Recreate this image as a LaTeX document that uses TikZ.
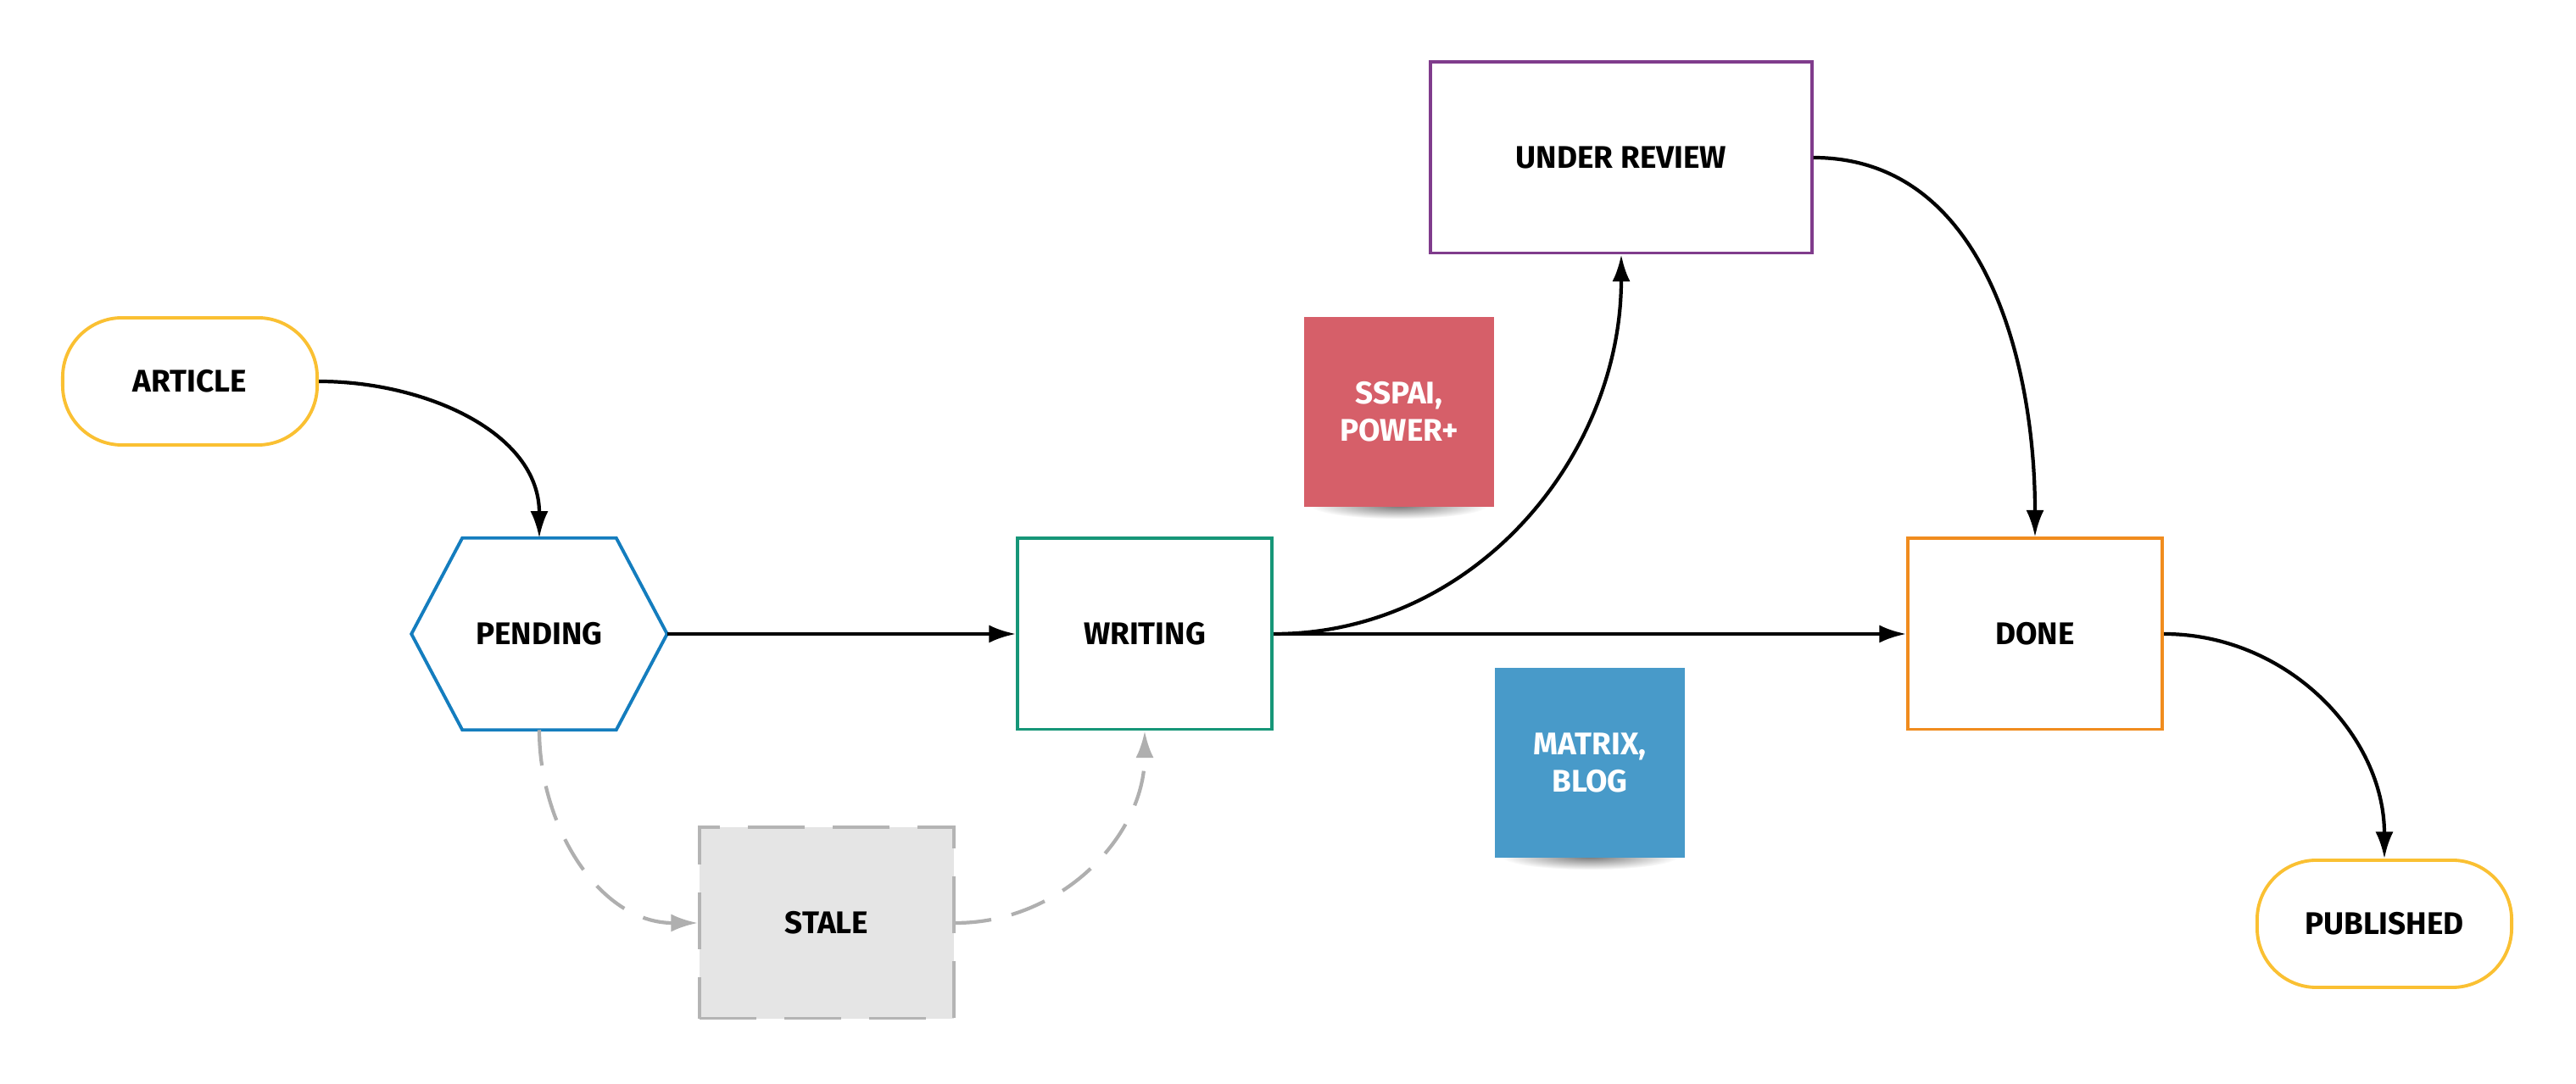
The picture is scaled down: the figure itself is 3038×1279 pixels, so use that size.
\documentclass[tikz,border=0pt]{standalone}
\usepackage{fontspec}
\setmainfont{Fira Sans}
\usetikzlibrary{arrows.meta,backgrounds}
\definecolor{termyellow}{RGB}{250,192,50}
\definecolor{hexblue}{RGB}{20,125,190}
\definecolor{writegreen}{RGB}{22,150,120}
\definecolor{reviewpurple}{RGB}{128,60,140}
\definecolor{doneorange}{RGB}{240,140,30}
\definecolor{stalegray}{RGB}{180,180,180}
\definecolor{stalefill}{RGB}{229,229,229}
\definecolor{notered}{RGB}{214,95,105}
\definecolor{noteblue}{RGB}{72,154,201}
\definecolor{arrowgray}{RGB}{175,175,175}
\begin{document}
\begin{tikzpicture}[x=0.01cm,y=0.01cm,
    every node/.style={font=\fontsize{10.5}{12.5}\selectfont\bfseries,align=center},
    state/.style={draw,line width=1.1pt,minimum width=3cm,minimum height=2.25cm,fill=white},
    term/.style={state,draw=termyellow,minimum height=1.5cm,rounded corners=0.7cm},
    note/.style={minimum width=2.23cm,minimum height=2.23cm,text=white},
    flow/.style={line width=1.2pt,-{Latex[length=9pt,width=6pt]}},
    stalearr/.style={flow,draw=arrowgray,dash pattern=on 12pt off 7pt}]
  \useasboundingbox (0,0) rectangle (3038,1279);
  \node[term] (article) at (224,829) {ARTICLE};
  \node[minimum width=3cm,minimum height=2.25cm] (pending) at (636,531) {PENDING};
  \draw[line width=1.1pt,hexblue] ([xshift=0.6cm]pending.north west) -- ([xshift=-0.6cm]pending.north east)
    -- (pending.east) -- ([xshift=-0.6cm]pending.south east) -- ([xshift=0.6cm]pending.south west)
    -- (pending.west) -- cycle;
  \node[state,draw=writegreen] (writing) at (1350,531) {WRITING};
  \node[state,draw=stalegray,fill=stalefill,dash pattern=on 19pt off 9.5pt] (stale) at (975,190) {STALE};
  \node[state,draw=reviewpurple,minimum width=4.49cm] (review) at (1912,1093) {UNDER REVIEW};
  \node[state,draw=doneorange] (done) at (2400,531) {DONE};
  \node[term] (published) at (2812,189) {PUBLISHED};
  \node[note,fill=notered] (sspai) at (1650,793) {SSPAI,\\POWER+};
  \node[note,fill=noteblue] (matrix) at (1875,379) {MATRIX,\\BLOG};
  \begin{scope}[on background layer]
    \shade[inner color=black!55,outer color=white] ([yshift=0.02cm]sspai.south) ellipse (1.05cm and 0.16cm);
    \shade[inner color=black!55,outer color=white] ([yshift=0.02cm]matrix.south) ellipse (1.05cm and 0.16cm);
  \end{scope}
  \draw[flow] (article.east) to[out=0,in=90] (pending.north);
  \draw[flow] (pending.east) -- (writing.west);
  \draw[flow] (writing.east) -- (done.west);
  \draw[flow] (writing.east) to[out=0,in=-90] (review.south);
  \draw[flow] (review.east) to[out=0,in=90] (done.north);
  \draw[flow] (done.east) to[out=0,in=90] (published.north);
  \draw[stalearr] (pending.south) to[out=-90,in=180] (stale.west);
  \draw[stalearr] (stale.east) to[out=0,in=-90] (writing.south);
\end{tikzpicture}
\end{document}
